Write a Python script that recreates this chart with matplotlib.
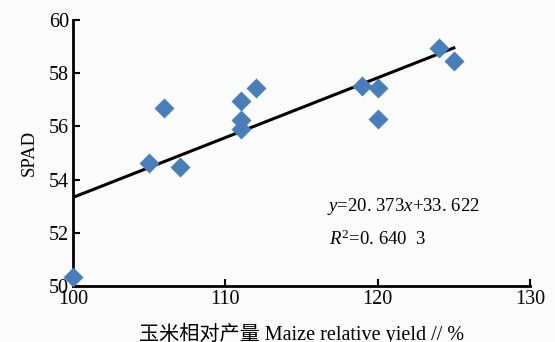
import matplotlib.pyplot as plt

# 玉米相对产量 vs SPAD
yield_rel = [100, 105, 106, 107, 111, 111, 111, 112, 119, 120, 120, 124, 125]
spad = [50.34, 54.62, 56.69, 54.47, 56.95, 56.24, 55.9, 57.44, 57.52, 57.44, 56.28, 58.95, 58.46]

# trend line end points as drawn
trend_x = [100, 125]
trend_y = [53.33, 58.95]

xticks = [100, 110, 120, 130]
yticks = [50, 52, 54, 56, 58, 60]

fam = ['Liberation Serif', 'Noto Sans CJK SC']
plt.rcParams['font.family'] = fam
plt.rcParams['mathtext.fontset'] = 'custom'
plt.rcParams['mathtext.it'] = 'Liberation Serif:italic'
plt.rcParams['mathtext.rm'] = 'Liberation Serif'

fig = plt.figure(figsize=(5.55, 3.42), dpi=100)
fig.patch.set_facecolor('#fbfbfb')
ax = fig.add_axes([0.1315, 0.1637, 0.8235, 0.778])
ax.set_facecolor('#fbfbfb')

ax.plot(trend_x, trend_y, color='black', lw=2.2, zorder=2)
ax.plot(yield_rel, spad, 'D', color='#4a7ebb', ms=10, mec='none', zorder=3, clip_on=False)

ax.set_xlim(100, 130)
ax.set_ylim(50, 60)
ax.set_xticks(xticks)
ax.set_yticks(yticks)
ax.tick_params(direction='in', length=5, width=1.5, labelsize=14.5, pad=3)

for s in ['top', 'right']:
    ax.spines[s].set_visible(False)
for s in ['left', 'bottom']:
    ax.spines[s].set_linewidth(2)

ax.set_ylabel('SPAD', fontsize=13.5, labelpad=8)
ax.set_xlabel('玉米相对产量 Maize relative yield // %', fontsize=14.5, labelpad=10)

ax.text(116.7, 52.97, r'$y$=20. 373$x$+33. 622', fontsize=13.5, ha='left', va='center')
ax.text(116.8, 51.75, r'$R^2$=0. 640  3', fontsize=13.5, ha='left', va='center')

fig.savefig('out.png', dpi=100, facecolor=fig.get_facecolor())
